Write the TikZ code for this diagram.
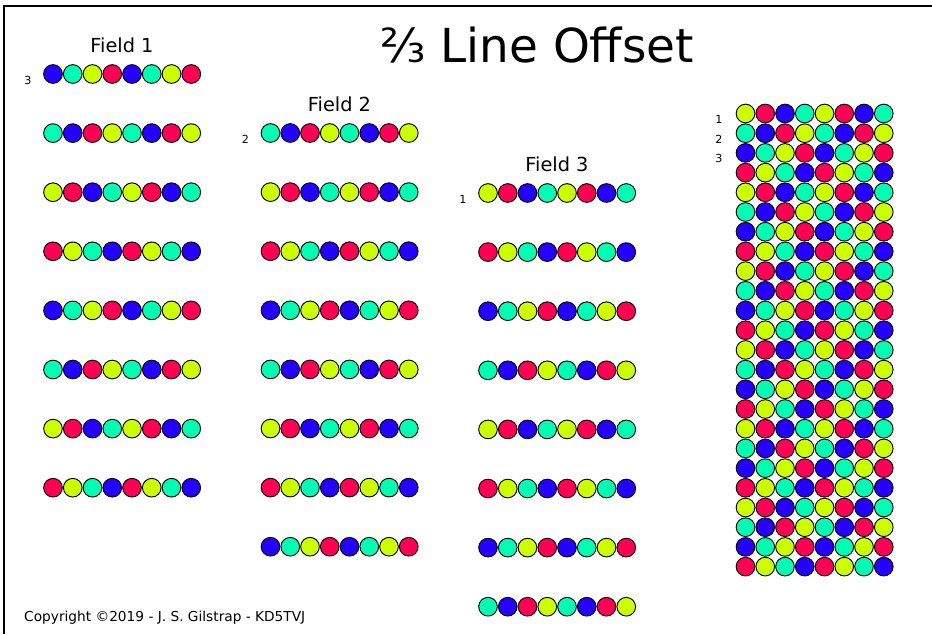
\documentclass[tikz,border=0pt]{standalone}
\usepackage{fontspec}
\setmainfont{DejaVu Sans}
\usetikzlibrary{positioning}
\definecolor{dot0}{HTML}{2600FF}
\definecolor{dot1}{HTML}{00FFB2}
\definecolor{dot2}{HTML}{CCFF00}
\definecolor{dot3}{HTML}{FF0055}

\begin{document}
\begin{tikzpicture}[x=0.03cm, y=-0.03cm,
  dot/.style={circle, draw, line width=0.8pt, inner sep=0pt, minimum size=0.56cm},
  fieldtitle/.style={anchor=base, inner sep=0pt, font=\fontsize{16.5}{20}\selectfont},
  rowlbl/.style={anchor=base, inner sep=0pt, font=\fontsize{9.5}{11}\selectfont}]
\useasboundingbox (0,0) rectangle (932,634);
\draw[line width=1.6pt] (4,634) -- (4,6) -- (932,6);
\node[anchor=base, inner sep=0pt, font=\fontsize{40}{48}\selectfont] (title) at (537,62) {⅔ Line Offset};
% the three fields
\foreach \f/\x/\y in {1/53/74, 2/270.5/133, 3/488/193} {
  \pgfmathtruncatemacro\n{4-\f}
  \node[fieldtitle] (field\f) at (\x+69,\y-22) {Field \f};
  \node[rowlbl] (lbl\f) at (\x-25,\y+10) {\n};
  \foreach \j in {0,...,7}
    \foreach \c in {0,...,7} {
      \pgfmathtruncatemacro\k{mod(\j+\f-1,4)}
      \pgfmathtruncatemacro\ci{2*mod(floor(\k/2)+floor(mod(\c,4)/2),2)+mod(\k+\c,2)}
      \node[dot, fill=dot\ci] (f\f-\j-\c) at (\x+19.75*\c,\y+59.1*\j) {};
    }
}
% interlaced frame
\foreach \i in {1,2,3}
  \node[rowlbl] (ilbl\i) at (719,113.5+19.7*\i-9.7) {\i};
\foreach \r in {0,...,23}
  \foreach \c in {0,...,7} {
    \pgfmathtruncatemacro\k{mod(2+3*\r,4)}
    \pgfmathtruncatemacro\ci{2*mod(floor(\k/2)+floor(mod(\c,4)/2),2)+mod(\k+\c,2)}
    \node[dot, fill=dot\ci] (il-\r-\c) at (745.5+19.75*\c,113.5+19.7*\r) {};
  }
\node[anchor=base west, inner sep=0pt, font=\fontsize{11.7}{14}\selectfont] (copy) at (24,621) {Copyright ©2019 - J. S. Gilstrap - KD5TVJ};
\end{tikzpicture}
\end{document}
